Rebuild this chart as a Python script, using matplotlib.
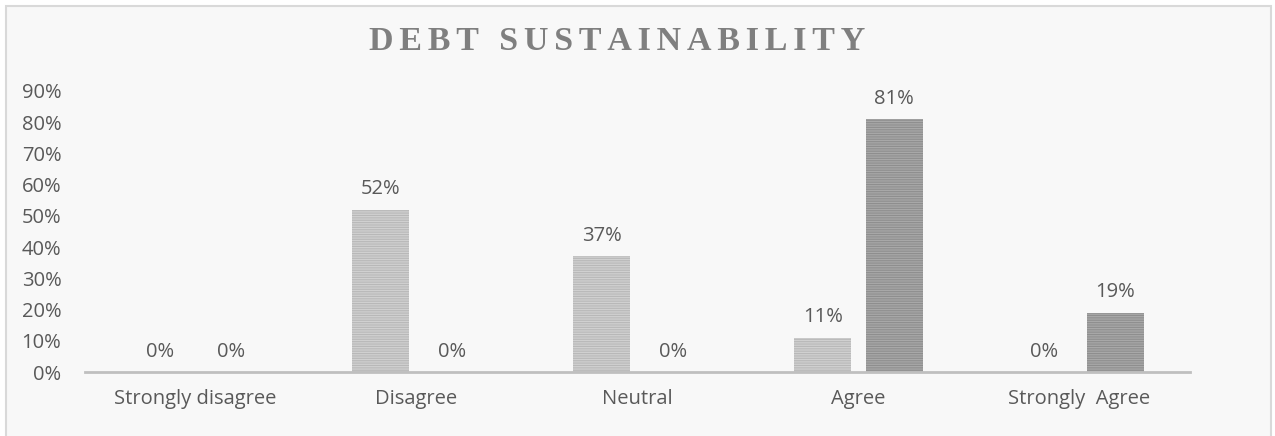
import numpy as np
import matplotlib.pyplot as plt
from matplotlib.patches import Rectangle

categories = ['Strongly disagree', 'Disagree', 'Neutral', 'Agree', 'Strongly  Agree']
series_a = [0, 52, 37, 11, 0]
series_b = [0, 0, 0, 81, 19]
yticks = [0, 10, 20, 30, 40, 50, 60, 70, 80, 90]

plt.rcParams['font.family'] = ['Open Sans', 'DejaVu Sans']
plt.rcParams['hatch.linewidth'] = 0.8

fig = plt.figure(figsize=(12.75, 4.36), dpi=100, facecolor='white')
# chart frame
fig.patches.append(Rectangle((6 / 1275, -0.05), 1265 / 1275, 1.05 - 6 / 436,
                             transform=fig.transFigure, facecolor='#f8f8f8',
                             edgecolor='#d9d9d9', linewidth=1.5, zorder=-5))

ax = fig.add_axes([85 / 1275, (436 - 372) / 436, 1105 / 1275, (372 - 91) / 436])
ax.set_facecolor('none')

x = np.arange(len(categories))
w = 0.26
off = 0.162
bars_a = ax.bar(x - off, series_a, w, color='#d0d0d0', edgecolor='#b8b8b8',
                hatch='-------', linewidth=0)
bars_b = ax.bar(x + off, series_b, w, color='#a8a8a8', edgecolor='#8e8e8e',
                hatch='-------', linewidth=0)

for bars, vals in ((bars_a, series_a), (bars_b, series_b)):
    for b, v in zip(bars, vals):
        ax.text(b.get_x() + b.get_width() / 2, v + 3.3, f'{v}%', ha='center',
                va='bottom', fontsize=14.5, color='#595959')

ax.set_xlim(-0.5, len(categories) - 0.5)
ax.set_ylim(0, 90)
ax.set_yticks(yticks)
ax.set_yticklabels([f'{t}%' for t in yticks], fontsize=14.5, color='#595959')
ax.set_xticks(x)
ax.set_xticklabels(categories, fontsize=14.5, color='#595959')
ax.tick_params(length=0, pad=12)
ax.tick_params(axis='y', pad=17)
for s in ('top', 'right', 'left'):
    ax.spines[s].set_visible(False)
ax.spines['bottom'].set_color('#bfbfbf')
ax.spines['bottom'].set_linewidth(2)

# letter-spaced title
gap = '\u200a\u200a'
title = gap.join('DEBT') + ' \u2009' + gap + gap.join('SUSTAINABILITY')
fig.text(617 / 1275, 1 - 41 / 436, title,
         ha='center', va='center', fontsize=24.5, fontweight='bold',
         family=['Liberation Serif', 'DejaVu Serif'], color='#7f7f7f')

fig.savefig('out.png', dpi=100, facecolor='white')
